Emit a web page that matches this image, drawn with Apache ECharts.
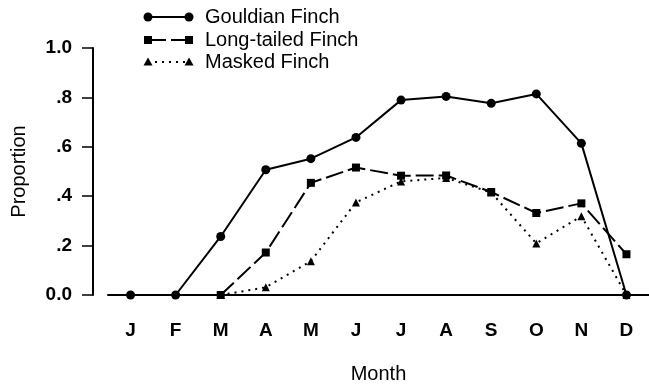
<!DOCTYPE html>
<html>
<head>
<meta charset="utf-8">
<script src="https://cdn.jsdelivr.net/npm/echarts@6/dist/echarts.min.js"></script>
<style>html,body{margin:0;padding:0;background:#fff}#c{width:649px;height:389px}</style>
</head>
<body>
<div id="c"></div>
<script>
var months = ['J','F','M','A','M','J','J','A','S','O','N','D'];
var gouldian = [0, 0, 0.237, 0.507, 0.552, 0.638, 0.789, 0.804, 0.776, 0.814, 0.614, 0];
var longTailed = [null, null, 0, 0.172, 0.454, 0.516, 0.483, 0.484, 0.417, 0.332, 0.371, 0.165];
var masked = [null, null, 0, 0.031, 0.137, 0.375, 0.46, 0.474, 0.415, 0.209, 0.319, 0];
var seriesNames = ['Gouldian Finch', 'Long-tailed Finch', 'Masked Finch'];
var yTicks = ['0.0', '.2', '.4', '.6', '.8', '1.0'];

var FONT = 'Liberation Sans';
var chart = echarts.init(document.getElementById('c'), null, {renderer: 'canvas'});

function legendItem(i, y, symbol, dash) {
  var x0 = 148, x1 = 189;
  var items = [
    {type: 'line', shape: {x1: x0, y1: y, x2: x1, y2: y},
     style: {stroke: '#000', lineWidth: 2, lineDash: dash}},
    {type: 'text', style: {text: seriesNames[i], x: 205, y: y, textVerticalAlign: 'middle',
      font: '20px "' + FONT + '"', fill: '#000'}}
  ];
  [x0, x1].forEach(function (cx) {
    if (symbol === 'circle') items.push({type: 'circle', shape: {cx: cx, cy: y, r: 4.5}, style: {fill: '#000'}});
    else if (symbol === 'rect') items.push({type: 'rect', shape: {x: cx - 4, y: y - 4, width: 8, height: 8}, style: {fill: '#000'}});
    else items.push({type: 'polygon', shape: {points: [[cx, y - 4.5], [cx - 4.5, y + 3.5], [cx + 4.5, y + 3.5]]}, style: {fill: '#000'}});
  });
  return items;
}

var graphics = [].concat(
  legendItem(0, 17, 'circle', null),
  legendItem(1, 40, 'rect', [18, 5]),
  legendItem(2, 62, 'triangle', [2, 5])
);

chart.setOption({
  animation: false,
  backgroundColor: '#fff',
  grid: {left: 108, right: -3, top: 48, bottom: 87},
  xAxis: {
    type: 'category', data: months, boundaryGap: true,
    name: 'Month', nameLocation: 'middle', nameGap: 69,
    nameTextStyle: {fontFamily: FONT, fontSize: 20, color: '#000'},
    axisLine: {lineStyle: {color: '#000', width: 2}},
    axisTick: {alignWithLabel: true, length: 11, lineStyle: {color: '#000', width: 1.5}},
    axisLabel: {fontFamily: FONT, fontSize: 19, fontWeight: 'bold', color: '#000', margin: 26}
  },
  yAxis: {
    type: 'value', min: 0, max: 1, interval: 0.2, offset: 15,
    name: 'Proportion', nameLocation: 'middle', nameGap: 64, nameRotate: 90,
    nameTextStyle: {fontFamily: FONT, fontSize: 20, color: '#000'},
    splitLine: {show: false},
    axisLine: {show: true, lineStyle: {color: '#000', width: 2}},
    axisTick: {show: true, length: 11, lineStyle: {color: '#000', width: 1.5}},
    axisLabel: {fontFamily: FONT, fontSize: 19, fontWeight: 'bold', color: '#000', margin: 21,
      formatter: function (v) { return yTicks[Math.round(v * 5)]; }}
  },
  series: [
    {name: seriesNames[0], type: 'line', data: gouldian, symbol: 'circle', symbolSize: 9,
     itemStyle: {color: '#000'}, lineStyle: {color: '#000', width: 2}},
    {name: seriesNames[1], type: 'line', data: longTailed, symbol: 'rect', symbolSize: 8,
     itemStyle: {color: '#000'}, lineStyle: {color: '#000', width: 2, type: [18, 5]}},
    {name: seriesNames[2], type: 'line', data: masked, symbol: 'triangle', symbolSize: 8,
     itemStyle: {color: '#000'}, lineStyle: {color: '#000', width: 2, type: [2, 5]}}
  ],
  graphic: graphics
});
</script>
</body>
</html>
